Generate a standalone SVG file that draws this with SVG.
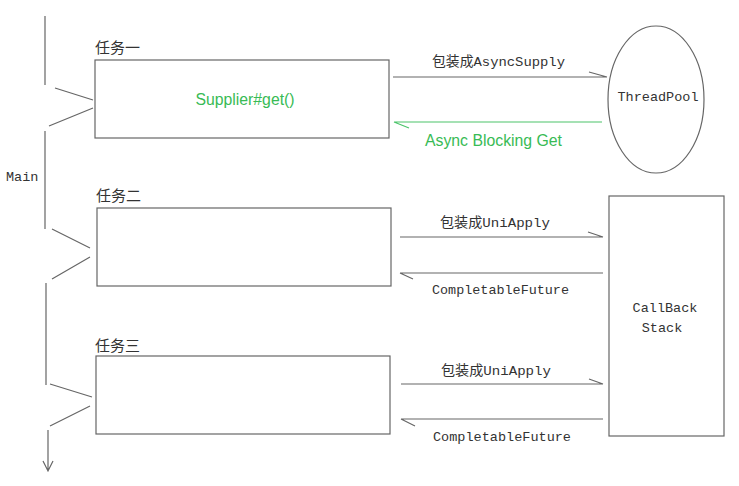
<svg xmlns="http://www.w3.org/2000/svg" width="739" height="486" viewBox="0 0 739 486">
<style>
.ln{stroke:#666;stroke-width:1.2;fill:none}
.gr{stroke:#4cc46a;stroke-width:1.2;fill:none}
.box{stroke:#666;stroke-width:1.2;fill:#fff}
.cn{font-family:"Noto Sans CJK SC",sans-serif;font-size:15px;fill:#333}
.mono{font-family:"Liberation Mono","Noto Sans CJK SC",monospace;font-size:13.5px;fill:#333}
.gt{font-family:"Liberation Sans",Arial,sans-serif;font-size:15.8px;fill:#38bb55}
</style>
<rect width="739" height="486" fill="#fff"/>
<g id="main">
<path class="ln" d="M45 16V85M55 88L93 100M93 108L49 126M45 131V229M52 229L90 248M90 257L52 279M46 283V385M50 384L92 397M90 406L50 426M48 430V471M43 461L48 471L53 461"/>
<text class="mono" x="6" y="181">Main</text>
</g>
<g id="task1">
<text class="cn" x="95" y="53">任务一</text>
<rect class="box" x="95" y="60" width="294" height="78"/>
<text class="gt" x="245" y="105" text-anchor="middle">Supplier#get()</text>
</g>
<g id="task2">
<text class="cn" x="96" y="201">任务二</text>
<rect class="box" x="97" y="208" width="294" height="78"/>
</g>
<g id="task3">
<text class="cn" x="95" y="351">任务三</text>
<rect class="box" x="96" y="356" width="294" height="78"/>
</g>
<g id="threadpool">
<ellipse class="box" cx="656" cy="99.5" rx="48" ry="73.5"/>
<text class="mono" x="658" y="101" text-anchor="middle">ThreadPool</text>
</g>
<g id="callback">
<rect class="box" x="609" y="196" width="115" height="240"/>
<text class="mono" x="665" y="312" text-anchor="middle">CallBack</text>
<text class="mono" x="662" y="332" text-anchor="middle">Stack</text>
</g>
<g id="connectors">
<path class="ln" d="M393 77H607M589 72L607 77"/>
<text class="mono" x="432" y="66" textLength="133" lengthAdjust="spacingAndGlyphs">包装成AsyncSupply</text>
<path class="gr" d="M602 122H394M394 122L409 128"/>
<text class="gt" x="425" y="146">Async Blocking Get</text>
<path class="ln" d="M400 237H603M588 232L603 237"/>
<text class="mono" x="440" y="227" textLength="110" lengthAdjust="spacingAndGlyphs">包装成UniApply</text>
<path class="ln" d="M603 273H400M400 273L413 279"/>
<text class="mono" x="432" y="294" textLength="137" lengthAdjust="spacingAndGlyphs">CompletableFuture</text>
<path class="ln" d="M401 384H603M589 379L603 384"/>
<text class="mono" x="441" y="375" textLength="110" lengthAdjust="spacingAndGlyphs">包装成UniApply</text>
<path class="ln" d="M603 419H401M401 419L415 426"/>
<text class="mono" x="433" y="441" textLength="138" lengthAdjust="spacingAndGlyphs">CompletableFuture</text>
</g>
</svg>
